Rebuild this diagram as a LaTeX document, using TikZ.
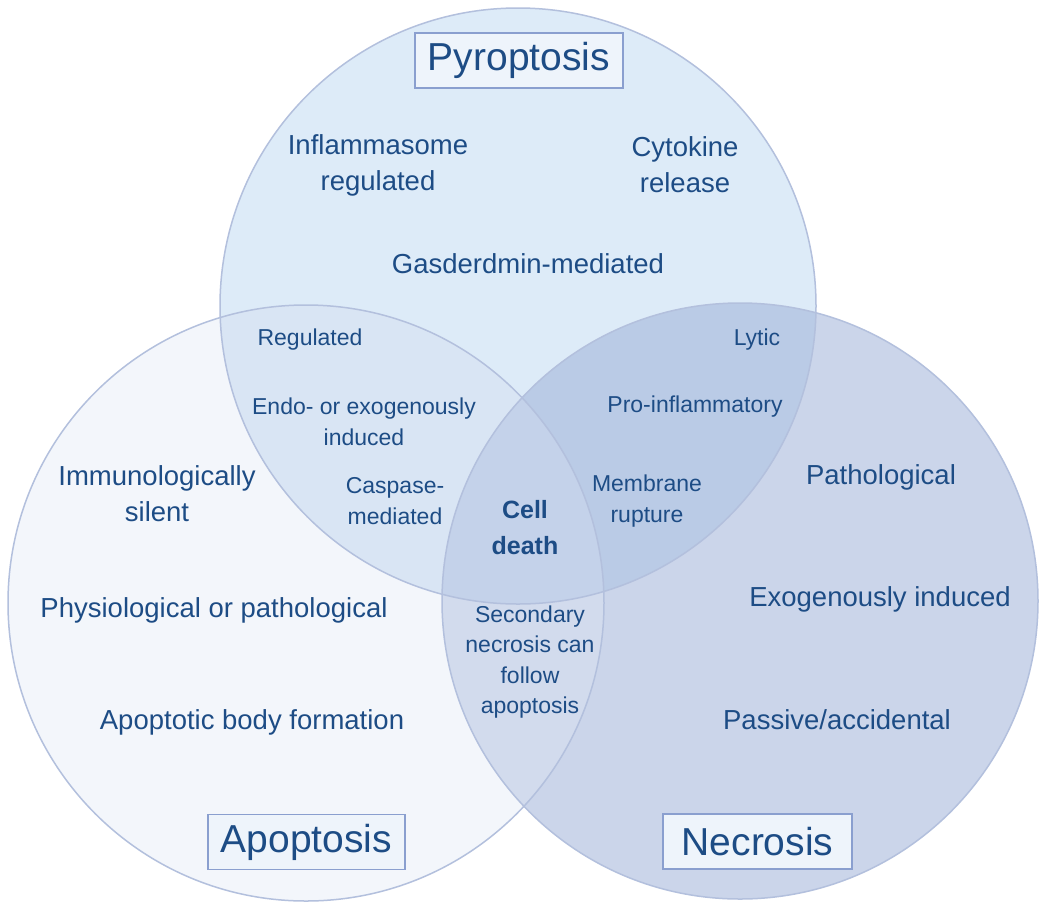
\documentclass[tikz,border=0pt]{standalone}
\usepackage{fontspec}
\setmainfont{Liberation Sans}
\definecolor{txt}{HTML}{1D4C85}
\definecolor{ringc}{HTML}{B3C0DD}
\definecolor{boxc}{HTML}{8A9FCF}
\definecolor{boxf}{HTML}{EEF4FB}
\definecolor{pyf}{HTML}{DDEBF8}
\definecolor{apf}{HTML}{F3F6FB}
\definecolor{nef}{HTML}{CBD5EA}
\definecolor{paf}{HTML}{D9E5F4}
\definecolor{pnf}{HTML}{BACBE6}
\definecolor{anf}{HTML}{D2DBED}
\definecolor{allf}{HTML}{C4D2EA}
\begin{document}
\begin{tikzpicture}[x=1pt,y=-1pt,
  big/.style={text=txt, align=center, font=\fontsize{27.5}{36}\selectfont, inner sep=0pt},
  mid/.style={text=txt, align=center, font=\fontsize{23}{30.5}\selectfont, inner sep=0pt},
  bold/.style={text=txt, align=center, font=\fontsize{25}{36}\selectfont\bfseries, inner sep=0pt},
  title/.style={text=txt, draw=boxc, line width=1.8pt, fill=boxf, font=\fontsize{39}{44}\selectfont, inner sep=0pt, minimum height=55pt},
  ring/.style={draw=ringc, line width=1.5pt}]
\useasboundingbox (0,0) rectangle (1050,906);
\fill[white] (0,0) rectangle (1050,906);
\coordinate (P) at (518,306);
\coordinate (A) at (306,603);
\coordinate (N) at (740,601);
% base fills
\fill[apf] (A) circle (298pt);
\fill[pyf] (P) circle (298pt);
\fill[nef] (N) circle (298pt);
% pairwise overlaps
\begin{scope}
  \clip (P) circle (298pt);
  \fill[paf] (A) circle (298pt);
\end{scope}
\begin{scope}
  \clip (P) circle (298pt);
  \fill[pnf] (N) circle (298pt);
\end{scope}
\begin{scope}
  \clip (A) circle (298pt);
  \fill[anf] (N) circle (298pt);
\end{scope}
\begin{scope}
  \clip (P) circle (298pt);
  \clip (A) circle (298pt);
  \fill[allf] (N) circle (298pt);
\end{scope}
% outlines
\draw[ring] (A) circle (298pt);
\draw[ring] (P) circle (298pt);
\draw[ring] (N) circle (298pt);
% titles
\node[title, minimum width=208pt] (tp) at (519,60.5) {Pyroptosis};
\node[title, minimum width=197pt] (ta) at (306.5,842) {Apoptosis};
\node[title, minimum width=189pt] (tn) at (757.5,841.5) {Necrosis};
% pyroptosis
\node[big] (p1) at (378,165) {Inflammasome\\regulated};
\node[big] (p2) at (685,165) {Cytokine\\release};
\node[big] (p3) at (528,264) {Gasderdmin-mediated};
% pyroptosis & apoptosis
\node[mid] (pa1) at (310,340) {Regulated};
\node[mid] (pa2) at (364,422) {Endo- or exogenously\\induced};
\node[mid] (pa3) at (395,501) {Caspase-\\mediated};
% pyroptosis & necrosis
\node[mid] (pn1) at (757,340) {Lytic};
\node[mid] (pn2) at (695,407) {Pro-inflammatory};
\node[mid] (pn3) at (647,501) {Membrane\\rupture};
% centre
\node[bold] (c) at (525,528) {Cell\\death};
% apoptosis
\node[big] (a1) at (157,494) {Immunologically\\silent};
\node[big] (a2) at (214,610) {Physiological or pathological};
\node[big] (a3) at (252,722) {Apoptotic body formation};
% apoptosis & necrosis
\node[mid] (an) at (530,662) {Secondary\\necrosis can\\follow\\apoptosis};
% necrosis
\node[big] (n1) at (881,477) {Pathological};
\node[big] (n2) at (880,599) {Exogenously induced};
\node[big] (n3) at (837,720) {Passive/accidental};
\end{tikzpicture}
\end{document}
